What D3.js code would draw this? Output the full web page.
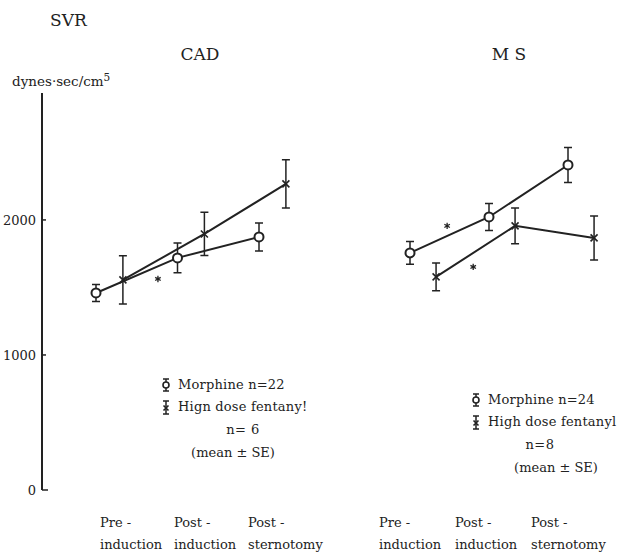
<!DOCTYPE html>
<html>
<head>
<meta charset="utf-8">
<script src="https://cdn.jsdelivr.net/npm/d3@7"></script>
<style>
  body { margin: 0; background: #fff; }
  svg { display: block; }
  text { font-family: "DejaVu Serif", "Liberation Serif", serif; fill: #222; }
</style>
</head>
<body>
<div class="chart"></div>
<script>
// data
var stageTop = ["Pre -", "Post -", "Post -"];
var stageBottom = ["induction", "induction", "sternotomy"];
var yTicks = [0, 1000, 2000];

var cadMorphine = [1459, 1719, 1874];
var cadMorphineSE = [63, 111, 104];
var cadFentanyl = [1556, 1896, 2267];
var cadFentanylSE = [178, 160, 178];

var msMorphine = [1756, 2022, 2407];
var msMorphineSE = [85, 100, 130];
var msFentanyl = [1578, 1956, 1867];
var msFentanylSE = [103, 133, 163];

// significance marks, [stage position, value]
var cadStars = [[0.76, 1563]];
var msStars = [[0.47, 1956], [0.80, 1652]];

var W = 622, H = 553;
var ink = "#222";

var svg = d3.select(".chart").append("svg")
    .attr("width", W)
    .attr("height", H);

// shared y scale
var y = d3.scaleLinear().domain([0, 2940]).range([490, 93]);

// y axis
var yAxis = d3.axisLeft(y).tickValues(yTicks).tickFormat(d3.format("d")).tickSize(0).tickPadding(6);
var ga = svg.append("g")
    .attr("transform", "translate(42,0)")
    .call(yAxis);
ga.select(".domain").remove();
ga.selectAll("text").attr("font-size", 13).style("fill", ink);
svg.append("line")
    .attr("x1", 42).attr("x2", 42)
    .attr("y1", y.range()[1]).attr("y2", y(0))
    .style("stroke", ink).style("stroke-width", 2);
svg.selectAll(".ytick")
    .data(yTicks)
  .enter().append("line")
    .attr("class", "ytick")
    .attr("x1", 42).attr("x2", function(d) { return d === 0 ? 48 : 46; })
    .attr("y1", y).attr("y2", y)
    .style("stroke", ink).style("stroke-width", 1.5);

// titles
svg.append("text").attr("x", 50).attr("y", 26).attr("font-size", 17).text("SVR");
var unit = svg.append("text").attr("x", 12).attr("y", 86).attr("font-size", 13.5);
unit.append("tspan").text("dynes\u00b7sec/cm");
unit.append("tspan").attr("dy", -5).attr("font-size", 10.5).text("5");

var panels = [
  {title: "CAD", tx: 200, range: [96, 259], labels: [100, 248],
   morphine: cadMorphine, morphineSE: cadMorphineSE,
   fentanyl: cadFentanyl, fentanylSE: cadFentanylSE, stars: cadStars,
   legend: {x: 166, y: 389, lines: ["Morphine n=22", "Hign dose fentany!"], n: "n= 6", nx: 243, mx: 233}},
  {title: "M S", tx: 509, range: [410, 568], labels: [379, 531],
   morphine: msMorphine, morphineSE: msMorphineSE,
   fentanyl: msFentanyl, fentanylSE: msFentanylSE, stars: msStars,
   legend: {x: 476, y: 404, lines: ["Morphine n=24", "High dose fentanyl"], n: "n=8", nx: 540, mx: 556}}
];

var fentOffset = 0.33; // fentanyl group drawn a little to the right

function drawX(g, cx, cy, s) {
  g.append("path")
    .attr("d", "M" + (cx - s) + "," + (cy - s) + "L" + (cx + s) + "," + (cy + s) +
               "M" + (cx - s) + "," + (cy + s) + "L" + (cx + s) + "," + (cy - s))
    .style("stroke", ink).style("stroke-width", 1.6).style("fill", "none");
}

function errBar(g, cx, y0, y1, w) {
  g.append("path")
    .attr("d", "M" + cx + "," + y0 + "V" + y1 +
               "M" + (cx - w) + "," + y0 + "H" + (cx + w) +
               "M" + (cx - w) + "," + y1 + "H" + (cx + w))
    .style("stroke", ink).style("stroke-width", 1.5).style("fill", "none");
}

var star = d3.symbol().type(d3.symbolAsterisk).size(28);

panels.forEach(function(p) {
  var x = d3.scaleLinear().domain([0, 2]).range(p.range);
  var xl = d3.scalePoint().domain(d3.range(3)).range(p.labels);
  var g = svg.append("g");

  g.append("text").attr("x", p.tx).attr("y", 60).attr("font-size", 17)
      .style("text-anchor", "middle").text(p.title);

  // x labels
  g.selectAll(".xl1").data(stageTop).enter().append("text")
      .attr("x", function(d, i) { return xl(i); }).attr("y", 527)
      .attr("font-size", 13).text(function(d) { return d; });
  g.selectAll(".xl2").data(stageBottom).enter().append("text")
      .attr("x", function(d, i) { return xl(i); }).attr("y", 549)
      .attr("font-size", 13).text(function(d) { return d; });

  var line = d3.line()
      .x(function(d) { return d[0]; })
      .y(function(d) { return d[1]; });

  var mPts = p.morphine.map(function(v, i) { return [x(i), y(v)]; });
  var fPts = p.fentanyl.map(function(v, i) { return [x(i + fentOffset), y(v)]; });

  g.append("path").datum(fPts).attr("d", line)
      .style("fill", "none").style("stroke", ink).style("stroke-width", 2);
  g.append("path").datum(mPts).attr("d", line)
      .style("fill", "none").style("stroke", ink).style("stroke-width", 2);

  // error bars
  p.morphine.forEach(function(v, i) {
    errBar(g, x(i), y(v + p.morphineSE[i]), y(v - p.morphineSE[i]), 4);
  });
  p.fentanyl.forEach(function(v, i) {
    errBar(g, x(i + fentOffset), y(v + p.fentanylSE[i]), y(v - p.fentanylSE[i]), 4);
  });

  // markers
  g.selectAll(".mdot").data(p.morphine).enter().append("circle")
      .attr("cx", function(d, i) { return x(i); })
      .attr("cy", function(d) { return y(d); })
      .attr("r", 4.5)
      .style("fill", "#fff").style("stroke", ink).style("stroke-width", 2);
  p.fentanyl.forEach(function(v, i) {
    drawX(g, x(i + fentOffset), y(v), 3.5);
  });

  // asterisks
  g.selectAll(".star").data(p.stars).enter().append("path")
      .attr("d", star)
      .attr("transform", function(d) { return "translate(" + x(d[0]) + "," + y(d[1]) + ")"; })
      .style("stroke", ink).style("stroke-width", 1.3).style("fill", "none");

  // legend
  var L = p.legend;
  var lg = g.append("g");
  errBar(lg, L.x, L.y - 10, L.y + 2, 3);
  lg.append("circle").attr("cx", L.x).attr("cy", L.y - 4).attr("r", 3)
      .style("fill", "#fff").style("stroke", ink).style("stroke-width", 1.6);
  errBar(lg, L.x, L.y + 12, L.y + 25, 3);
  drawX(lg, L.x, L.y + 19, 2.5);
  lg.selectAll(".lt").data(L.lines).enter().append("text")
      .attr("x", L.x + 12).attr("y", function(d, i) { return L.y + i * 22; })
      .attr("font-size", 13).style("letter-spacing", "0.2px")
      .text(function(d) { return d; });
  lg.append("text").attr("x", L.nx).attr("y", L.y + 45).attr("font-size", 13)
      .style("text-anchor", "middle").style("letter-spacing", "0.5px").text(L.n);
  lg.append("text").attr("x", L.mx).attr("y", L.y + 68).attr("font-size", 13)
      .style("text-anchor", "middle").text("(mean \u00b1 SE)");
});
</script>
</body>
</html>
